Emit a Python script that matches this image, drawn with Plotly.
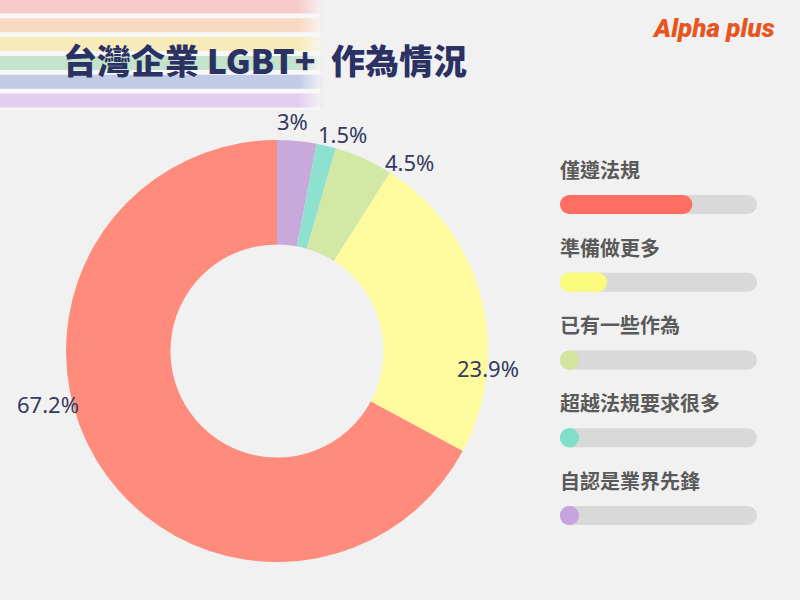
import plotly.graph_objects as go

W, H = 800, 600

# ---- data ----
pie_labels = ["自認是業界先鋒", "超越法規要求很多", "已有一些作為", "準備做更多", "僅遵法規"]
pie_values = [3, 1.5, 4.5, 23.9, 67.2]
pie_colors = ["#c9a9dc", "#8ce2cf", "#d3e8a4", "#fdfb9d", "#fe8b7b"]

legend_labels = ["僅遵法規", "準備做更多", "已有一些作為", "超越法規要求很多", "自認是業界先鋒"]
legend_values = [67.2, 23.9, 4.5, 1.5, 3]
legend_colors = ["#fe6e62", "#fbfc7c", "#cfe69c", "#7ee0c9", "#c7a4de"]

title_text = "台灣企業 LGBT+\u00a0\u00a0作為情況"
brand_text = "Alpha plus"
stripe_colors = ["#f7cbcc", "#f8d9c4", "#f8ebba", "#c3e3cc", "#c2cce6", "#e3cef0"]

# label placement (pixel centres, layout only) for the donut percentages
label_pos_px = [(292, 121), (342, 134), (409, 162), (488, 368), (48, 404)]


def px_x(p):
    return p / W


def px_y(p):
    return 1 - p / H


fig = go.Figure()

# ---- donut ----
cx, cy, r = 277, 351, 211
fig.add_trace(go.Pie(
    labels=pie_labels, values=pie_values, sort=False, direction="clockwise",
    rotation=0, hole=0.505,
    marker=dict(colors=pie_colors, line=dict(width=0)),
    textinfo="none",
    domain=dict(x=[px_x(cx - r), px_x(cx + r)], y=[px_y(cy + r), px_y(cy - r)]),
    showlegend=False, hoverinfo="skip",
))

annotations = []
for v, (lx, ly) in zip(pie_values, label_pos_px):
    annotations.append(dict(
        x=px_x(lx), y=px_y(ly), xref="paper", yref="paper",
        text=f"{v:g}%", showarrow=False, xanchor="center", yanchor="middle",
        font=dict(family="Noto Sans", size=22, color="#363a5e"),
    ))

# ---- legend bars (pill shaped) ----
bar_left, bar_right = 560, 757
bar_px = 19
row_top_px, row_step_px = 204.5, 77.75
rows = list(range(len(legend_labels)))
axis_px = bar_right - bar_left
cap = (bar_px / 2) / axis_px * 100  # half bar thickness in axis units

for i in rows:
    # grey track
    fig.add_trace(go.Scatter(
        x=[cap, 100 - cap], y=[i, i], mode="lines+markers",
        line=dict(color="#d9d9d9", width=bar_px),
        marker=dict(size=bar_px, color="#d9d9d9", line=dict(width=0)),
        showlegend=False, hoverinfo="skip",
    ))
for i in rows:
    end = max(cap, legend_values[i] - cap)
    fig.add_trace(go.Scatter(
        x=[cap, end], y=[i, i], mode="lines+markers",
        line=dict(color=legend_colors[i], width=bar_px),
        marker=dict(size=bar_px, color=legend_colors[i], line=dict(width=0)),
        showlegend=False, hoverinfo="skip",
    ))

y_lo, y_hi = -1, 4.5
dom_top = row_top_px + y_lo * row_step_px
dom_bot = row_top_px + y_hi * row_step_px

label_off = 35 / row_step_px
for i, lab in enumerate(legend_labels):
    annotations.append(dict(
        x=0, y=i - label_off, xref="x", yref="y", text=lab, showarrow=False,
        xanchor="left", yanchor="middle", xshift=-2,
        font=dict(family="Noto Sans CJK TC", size=20, color="#5a5a5a", weight=700),
    ))

annotations.append(dict(
    x=px_x(61), y=px_y(59), xref="paper", yref="paper", text=title_text,
    showarrow=False, xanchor="left", yanchor="middle",
    font=dict(family="Noto Sans CJK TC", size=34, color="#2b3263", weight=900),
))
annotations.append(dict(
    x=px_x(777), y=px_y(28), xref="paper", yref="paper",
    text="<i>" + brand_text + "</i>", showarrow=False, xanchor="right", yanchor="middle",
    font=dict(family="Roboto", size=26, color="#e8561f", weight=900),
))

# ---- rainbow stripes ----
shapes = [dict(type="rect", xref="paper", yref="paper", layer="below",
               x0=0, x1=px_x(320), y0=px_y(110), y1=px_y(0),
               fillcolor="#f8f8f8", line=dict(width=0))]
stripe_h = 14
for i, c in enumerate(stripe_colors):
    yc = 6.5 + i * 18.8
    y0, y1 = px_y(yc + stripe_h / 2), px_y(yc - stripe_h / 2)
    shapes.append(dict(type="rect", xref="paper", yref="paper", layer="below",
                       x0=0, x1=px_x(300), y0=y0, y1=y1,
                       fillcolor=c, line=dict(width=0)))
    nfade = 12
    for k in range(nfade):
        shapes.append(dict(type="rect", xref="paper", yref="paper", layer="below",
                           x0=px_x(300 + k * 2), x1=px_x(300 + (k + 1) * 2),
                           y0=y0, y1=y1, fillcolor=c,
                           opacity=1 - (k + 1) / (nfade + 1), line=dict(width=0)))

fig.update_layout(
    width=W, height=H, margin=dict(l=0, r=0, t=0, b=0),
    paper_bgcolor="#f1f1f1", plot_bgcolor="rgba(0,0,0,0)",
    xaxis=dict(domain=[px_x(bar_left), px_x(bar_right)], range=[0, 100],
               visible=False, fixedrange=True),
    yaxis=dict(domain=[px_y(dom_bot), px_y(dom_top)], range=[y_hi, y_lo],
               visible=False, fixedrange=True),
    annotations=annotations, shapes=shapes,
)

fig.write_html("out.html")
